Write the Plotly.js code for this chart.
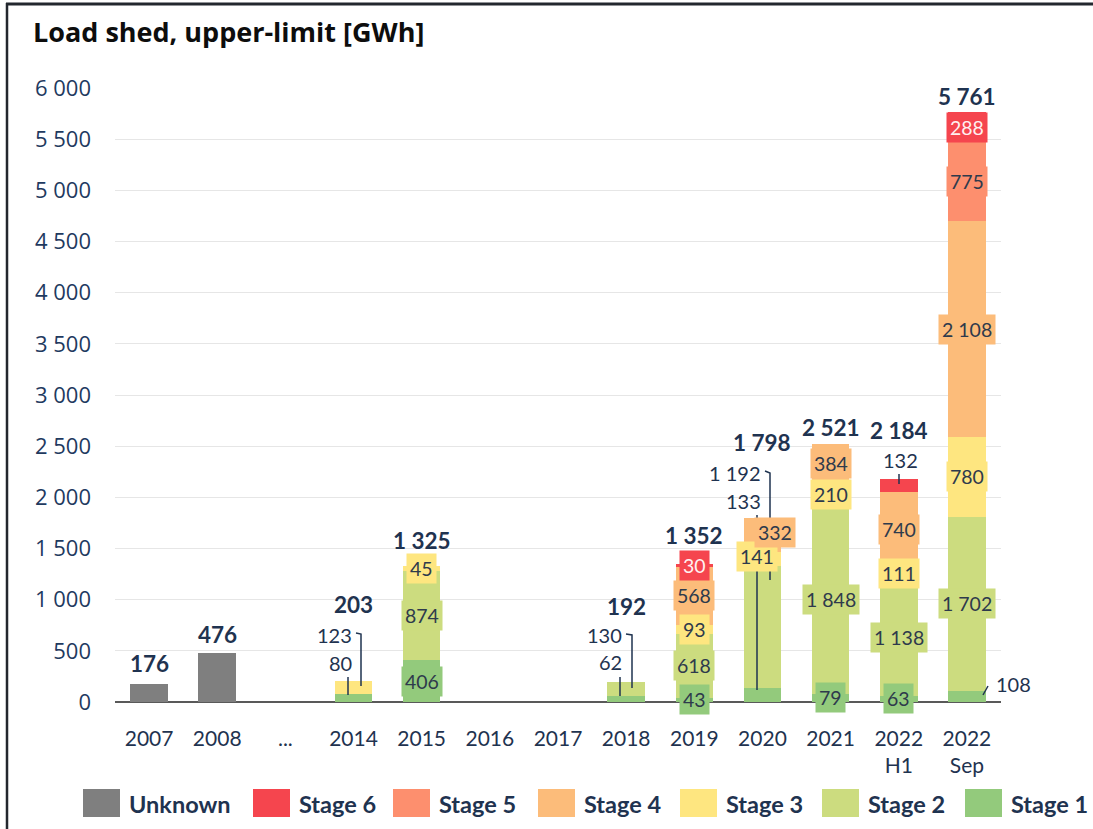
<!DOCTYPE html>
<html><head><meta charset="utf-8">
<script src="https://cdn.plot.ly/plotly-3.0.1.min.js"></script>
<style>html,body{margin:0;padding:0;background:#fff;} #chart{width:1093px;height:829px;}</style>
</head><body><div id="chart"></div>
<script>
// ---- data ----
const categories = ['2007','2008','...','2014','2015','2016','2017','2018','2019','2020','2021','2022<br>H1','2022<br>Sep'];
const seriesNames = ['Stage 1','Stage 2','Stage 3','Stage 4','Stage 5','Stage 6','Unknown'];
const stage1  = [0,0,0,80,406,0,0,62,43,133,79,63,108];
const stage2  = [0,0,0,0,874,0,0,130,618,1192,1848,1138,1702];
const stage3  = [0,0,0,123,45,0,0,0,93,141,210,111,780];
const stage4  = [0,0,0,0,0,0,0,0,568,332,384,740,2108];
const stage5  = [0,0,0,0,0,0,0,0,0,0,0,0,775];
const stage6  = [0,0,0,0,0,0,0,0,30,0,0,132,288];
const unknown = [176,476,0,0,0,0,0,0,0,0,0,0,0];
const yTickStep = 500, yMax = 6000;

// ---- style ----
const colors = ['#93CA7C','#CCDC7F','#FEE680','#FCBC7A','#FD8F6E','#F5454E','#7F7F7F'];
const labelFontColor = ['#2E3A4C','#2E3A4C','#2E3A4C','#2E3A4C','#2E3A4C','#FFF0F0','#2E3A4C'];
const navy = '#1F3350';
const L=115,R=92,T=88,B=127,W=1093,H=829;
const plotW=W-L-R, plotH=H-T-B;
const nCat=categories.length;
const xUnit=plotW/nCat, yUnit=plotH/yMax;
const y0px=T+plotH;
const xd = px => (px-L)/xUnit - 0.5;
const yd = py => (y0px-py)/yUnit;
const xp = px => (px-L)/plotW;
const yp = py => (y0px-py)/plotH;
const fmt = v => String(v).replace(/\B(?=(\d{3})+(?!\d))/g,' ');

// total label gap above bar top (px)
const totalGap = [20,19,0,77,26,0,0,76,28,76,17,48,16];
// inside label pixel nudges
const insideShift = {'9-2':{xs:-5,ys:3}, '9-3':{xs:13,ys:2}};
// outside labels: text position & leader line (pixels)
const outsideLabels = [
 {i:3,k:0, x:353, y:663, anchor:'right', path:[[348,677],[348,695]]},
 {i:3,k:2, x:353, y:635, anchor:'right', path:[[356,633],[361,634],[361,686]]},
 {i:7,k:0, x:623, y:662, anchor:'right', path:[[620,677],[620,696]]},
 {i:7,k:1, x:623, y:635, anchor:'right', path:[[626,634],[632,635],[632,688]]},
 {i:9,k:1, x:762, y:473, anchor:'right', path:[[765,471],[770,473],[770,580]]},
 {i:9,k:0, x:762, y:501, anchor:'right', path:[[757,515],[757,690]]},
 {i:11,k:5, x:900, y:460, anchor:'center', path:[[899,474],[899,484]]},
 {i:12,k:0, x:995, y:684, anchor:'left', path:[[983,695],[988,686]]}
];
const legendLeft = [83,253,393,538,680,822,965];

const seriesData = [stage1,stage2,stage3,stage4,stage5,stage6,unknown];
const xIdx = categories.map((c,i)=>i);

const traces = seriesNames.map((n,k)=>({
  type:'bar', name:n, x:xIdx, y:seriesData[k],
  marker:{color:colors[k], line:{width:0}},
  showlegend:false, hoverinfo:'skip'
}));

const annotations = [];
const shapes = [];
const outsideKeys = new Set(outsideLabels.map(o=>o.i+'-'+o.k));
const LATO = 'Lato, "Open Sans", sans-serif';

// inside labels
const base = xIdx.map(()=>0);
seriesData.forEach((arr,k)=>{
  arr.forEach((v,i)=>{
    if(v>0 && k!==6 && !outsideKeys.has(i+'-'+k)){
      const sh = insideShift[i+'-'+k] || {xs:0,ys:0};
      annotations.push({x:i, y:base[i]+v/2, xref:'x', yref:'y', text:fmt(v), showarrow:false,
        xshift:sh.xs, yshift:sh.ys, bgcolor:colors[k], borderpad:3,
        font:{family:LATO, size:19.5, color:labelFontColor[k]}});
    }
    base[i]+=v;
  });
});
// totals
base.forEach((t,i)=>{
  if(t>0){
    annotations.push({x:i, y:t, xref:'x', yref:'y', text:fmt(t), showarrow:false,
      yshift:totalGap[i], yanchor:'middle',
      font:{family:LATO, size:22.5, color:navy, weight:'bold'}});
  }
});
// outside labels
outsideLabels.forEach(o=>{
  annotations.push({x:xd(o.x), y:yd(o.y), xref:'x', yref:'y', xanchor:o.anchor, yanchor:'middle',
    text:fmt(seriesData[o.k][o.i]), showarrow:false, borderpad:0,
    font:{family:LATO, size:20, color:navy}});
  const p = o.path.map((pt,j)=>(j?'L':'M')+xd(pt[0])+','+yd(pt[1])).join(' ');
  shapes.push({type:'path', xref:'x', yref:'y', path:p, layer:'above', line:{color:navy, width:1.5}});
});
// legend
const legendOrder = [6,5,4,3,2,1,0];
legendOrder.forEach((k,j)=>{
  const x0 = legendLeft[j];
  shapes.push({type:'rect', xref:'paper', yref:'paper', x0:xp(x0), x1:xp(x0+37), y0:yp(817), y1:yp(789),
    fillcolor:colors[k], line:{width:0}});
  annotations.push({xref:'paper', yref:'paper', x:xp(x0+44), y:yp(804), xanchor:'left', yanchor:'middle',
    text:seriesNames[k], showarrow:false, font:{family:LATO, size:23.5, color:navy, weight:'bold'}});
});
// frame lines
shapes.push({type:'line', xref:'paper', yref:'paper', x0:xp(6), x1:xp(1093), y0:yp(4), y1:yp(4), line:{color:'#23272E', width:3}});
shapes.push({type:'line', xref:'paper', yref:'paper', x0:xp(7), x1:xp(7), y0:yp(3), y1:yp(829), line:{color:'#23272E', width:2.5}});

const layout = {
  width:W, height:H,
  margin:{l:L, r:R, t:T, b:B, pad:0},
  paper_bgcolor:'#fff', plot_bgcolor:'#fff',
  barmode:'stack', bargap:0.45,
  separators:', ',
  showlegend:false,
  title:{text:'Load shed, upper-limit [GWh]', x:33/W, xanchor:'left', xref:'container', y:1-33/H, yanchor:'middle', yref:'container',
    font:{family:'"Open Sans", sans-serif', size:27, color:'#0D0D0D', weight:'bold'}},
  xaxis:{range:[-0.5,nCat-0.5], tickvals:xIdx, ticktext:categories, showgrid:false, zeroline:false,
    showline:false, ticks:'', ticklabelstandoff:22, fixedrange:true,
    tickfont:{family:LATO, size:21, color:navy}},
  yaxis:{range:[0,yMax], dtick:yTickStep, tick0:0, tickformat:',d', showgrid:true, gridcolor:'#E6E6E6', gridwidth:1,
    zeroline:true, zerolinecolor:'#595959', zerolinewidth:2, showline:false, ticks:'', ticklabelstandoff:23,
    tickfont:{family:'"Open Sans", sans-serif', size:22, color:'#1F3A5F'}},
  annotations:annotations, shapes:shapes
};
Plotly.newPlot('chart', traces, layout, {staticPlot:true, displayModeBar:false});
</script>
</body></html>
